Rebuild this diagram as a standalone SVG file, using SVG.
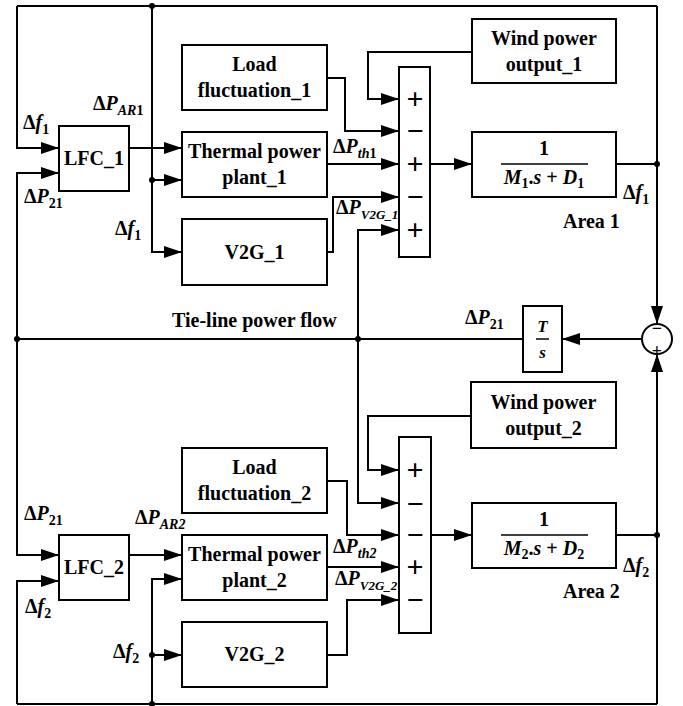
<svg xmlns="http://www.w3.org/2000/svg" width="683" height="706" viewBox="0 0 683 706" font-family="'Liberation Serif', 'Times New Roman', 'DejaVu Serif', serif">
<defs>
<marker id="ar" markerUnits="userSpaceOnUse" markerWidth="18" markerHeight="12" refX="18" refY="6" orient="auto">
<path d="M0,0 L18,6 L0,12 Z" fill="#000"/>
</marker>
<style>
rect.b{fill:#fff;stroke:#000;stroke-width:2}
.w{fill:none;stroke:#000;stroke-width:2}
.a{fill:none;stroke:#000;stroke-width:2;marker-end:url(#ar)}
.dot{fill:#000}
text{font-family:'Liberation Serif','Times New Roman','DejaVu Serif',serif;font-weight:bold;fill:#000}
.t{font-size:20px;text-anchor:middle}
.lbl{font-size:20px}
.i{font-style:italic}
.sub{font-size:14px}
.sg{font-size:30px;text-anchor:middle}
</style>
</defs>
<rect width="683" height="706" fill="#fff"/>

<g id="connectors">
<path class="w" d="M616,164 H657"/>
<path class="a" d="M657,6 V324"/>
<path class="w" d="M17,6 H657"/>
<path class="a" d="M17,6 V148 H59"/>
<path class="a" d="M152,6 V252 H182"/>
<path class="a" d="M152,180 H182"/>
<path class="a" d="M129,148 H182"/>
<path class="a" d="M642,339 H562"/>
<path class="w" d="M523,339 H17"/>
<path class="a" d="M17,339 V173 H59"/>
<path class="a" d="M17,339 V555 H59"/>
<path class="a" d="M358,339 V230 H399"/>
<path class="a" d="M358,339 V503 H399"/>
<path class="a" d="M472,52 H368 V99 H399"/>
<path class="a" d="M327,78 H345 V131 H399"/>
<path class="a" d="M327,164 H399"/>
<path class="a" d="M327,252 H333 V197 H399"/>
<path class="a" d="M430,164 H472"/>
<path class="a" d="M471,416 H368 V470 H399"/>
<path class="a" d="M327,481 H347 V535 H399"/>
<path class="a" d="M327,567 H399"/>
<path class="a" d="M327,655 H347 V600 H399"/>
<path class="a" d="M431,535 H472"/>
<path class="w" d="M616,535 H657"/>
<path class="a" d="M657,704 V354"/>
<path class="w" d="M17,704 H657"/>
<path class="a" d="M17,704 V581 H59"/>
<path class="a" d="M152,704 V579 H182"/>
<path class="a" d="M152,655 H182"/>
<path class="a" d="M129,555 H182"/>
<circle class="dot" cx="152" cy="6" r="3"/>
<circle class="dot" cx="152" cy="180" r="3"/>
<circle class="dot" cx="657" cy="164" r="3"/>
<circle class="dot" cx="17" cy="339" r="3"/>
<circle class="dot" cx="358" cy="339" r="3"/>
<circle class="dot" cx="657" cy="535" r="3"/>
<circle class="dot" cx="152" cy="704" r="3"/>
<circle class="dot" cx="152" cy="655" r="3"/>
</g>

<g id="lfc1"><rect class="b" x="59" y="126" width="70" height="65"/><text class="t" x="94" y="165">LFC_1</text></g>
<g id="load1"><rect class="b" x="182" y="45" width="145" height="65"/><text class="t" x="254.5" y="71">Load</text><text class="t" x="254.5" y="97">fluctuation_1</text></g>
<g id="thermal1"><rect class="b" x="182" y="132" width="145" height="65"/><text class="t" x="254.5" y="158">Thermal power</text><text class="t" x="254.5" y="184">plant_1</text></g>
<g id="v2g1"><rect class="b" x="182" y="219" width="145" height="66"/><text class="t" x="254.5" y="259">V2G_1</text></g>
<g id="wind1"><rect class="b" x="472" y="19" width="144" height="64"/><text class="t" x="544" y="45">Wind power</text><text class="t" x="544" y="71">output_1</text></g>
<g id="sum1"><rect class="b" x="399" y="67" width="31" height="190"/>
<text class="sg" x="415" y="109">+</text><text class="sg" x="415" y="141">−</text><text class="sg" x="415" y="174">+</text><text class="sg" x="415" y="207">−</text><text class="sg" x="415" y="240">+</text></g>
<g id="plant1"><rect class="b" x="472" y="132" width="144" height="65"/>
<text class="t" x="544" y="155">1</text><line x1="501" y1="164" x2="588" y2="164" stroke="#000" stroke-width="1.5"/>
<text class="t" x="544" y="184"><tspan class="i">M</tspan><tspan font-size="14" dy="4">1</tspan><tspan dy="-4">.</tspan><tspan class="i">s</tspan> + <tspan class="i">D</tspan><tspan font-size="14" dy="4">1</tspan></text></g>

<g id="tie"><rect class="b" x="523" y="306" width="39" height="66"/>
<text class="i" x="542.5" y="332" font-size="17" text-anchor="middle">T</text>
<line x1="536" y1="339" x2="549" y2="339" stroke="#000" stroke-width="1.5"/>
<text class="i" x="542.5" y="358" font-size="17" text-anchor="middle">s</text></g>
<g id="cmp"><circle cx="657" cy="339" r="15" fill="#fff" stroke="#000" stroke-width="2"/>
<text x="657" y="334" font-size="18" text-anchor="middle">−</text>
<text x="657" y="357" font-size="18" text-anchor="middle">+</text></g>

<g id="lfc2"><rect class="b" x="59" y="535" width="70" height="65"/><text class="t" x="94" y="574">LFC_2</text></g>
<g id="load2"><rect class="b" x="182" y="448" width="145" height="65"/><text class="t" x="254.5" y="474">Load</text><text class="t" x="254.5" y="500">fluctuation_2</text></g>
<g id="thermal2"><rect class="b" x="182" y="535" width="145" height="65"/><text class="t" x="254.5" y="561">Thermal power</text><text class="t" x="254.5" y="587">plant_2</text></g>
<g id="v2g2"><rect class="b" x="182" y="622" width="145" height="65"/><text class="t" x="254.5" y="661">V2G_2</text></g>
<g id="wind2"><rect class="b" x="471" y="382" width="145" height="66"/><text class="t" x="543.5" y="409">Wind power</text><text class="t" x="543.5" y="435">output_2</text></g>
<g id="sum2"><rect class="b" x="399" y="437" width="32" height="196"/>
<text class="sg" x="415" y="480">+</text><text class="sg" x="415" y="514">−</text><text class="sg" x="415" y="545">−</text><text class="sg" x="415" y="577">+</text><text class="sg" x="415" y="610">−</text></g>
<g id="plant2"><rect class="b" x="472" y="503" width="144" height="65"/>
<text class="t" x="544" y="526">1</text><line x1="501" y1="535" x2="588" y2="535" stroke="#000" stroke-width="1.5"/>
<text class="t" x="544" y="555"><tspan class="i">M</tspan><tspan font-size="14" dy="4">2</tspan><tspan dy="-4">.</tspan><tspan class="i">s</tspan> + <tspan class="i">D</tspan><tspan font-size="14" dy="4">2</tspan></text></g>

<g id="labels">
<text class="lbl" x="23" y="129">Δ<tspan class="i">f</tspan><tspan class="sub" dy="5">1</tspan></text>
<text class="lbl" x="24" y="203">Δ<tspan class="i">P</tspan><tspan class="sub" dy="5">21</tspan></text>
<text class="lbl" x="93" y="110">Δ<tspan class="i">P</tspan><tspan class="sub i" dy="5">AR</tspan><tspan class="sub">1</tspan></text>
<text class="lbl" x="115" y="235">Δ<tspan class="i">f</tspan><tspan class="sub" dy="5">1</tspan></text>
<text class="lbl" x="333" y="153">Δ<tspan class="i">P</tspan><tspan class="sub i" dy="5">th</tspan><tspan class="sub">1</tspan></text>
<text class="lbl" x="336" y="214" font-size="18">Δ<tspan class="i">P</tspan><tspan class="i" font-size="13" dy="5">V2G_1</tspan></text>
<text class="lbl" x="623" y="199">Δ<tspan class="i">f</tspan><tspan class="sub" dy="5">1</tspan></text>
<text class="lbl" x="563" y="228">Area 1</text>
<text class="lbl" x="172" y="327">Tie-line power flow</text>
<text class="lbl" x="465" y="324">Δ<tspan class="i">P</tspan><tspan class="sub" dy="5">21</tspan></text>
<text class="lbl" x="24" y="520">Δ<tspan class="i">P</tspan><tspan class="sub" dy="5">21</tspan></text>
<text class="lbl" x="135" y="524">Δ<tspan class="i">P</tspan><tspan class="sub i" dy="5">AR2</tspan></text>
<text class="lbl" x="25" y="613">Δ<tspan class="i">f</tspan><tspan class="sub" dy="5">2</tspan></text>
<text class="lbl" x="113" y="658">Δ<tspan class="i">f</tspan><tspan class="sub" dy="5">2</tspan></text>
<text class="lbl" x="333" y="553">Δ<tspan class="i">P</tspan><tspan class="sub i" dy="5">th2</tspan></text>
<text class="lbl" x="335" y="585" font-size="18">Δ<tspan class="i">P</tspan><tspan class="i" font-size="13" dy="5">V2G_2</tspan></text>
<text class="lbl" x="623" y="572">Δ<tspan class="i">f</tspan><tspan class="sub" dy="5">2</tspan></text>
<text class="lbl" x="563" y="598">Area 2</text>
</g>
</svg>
